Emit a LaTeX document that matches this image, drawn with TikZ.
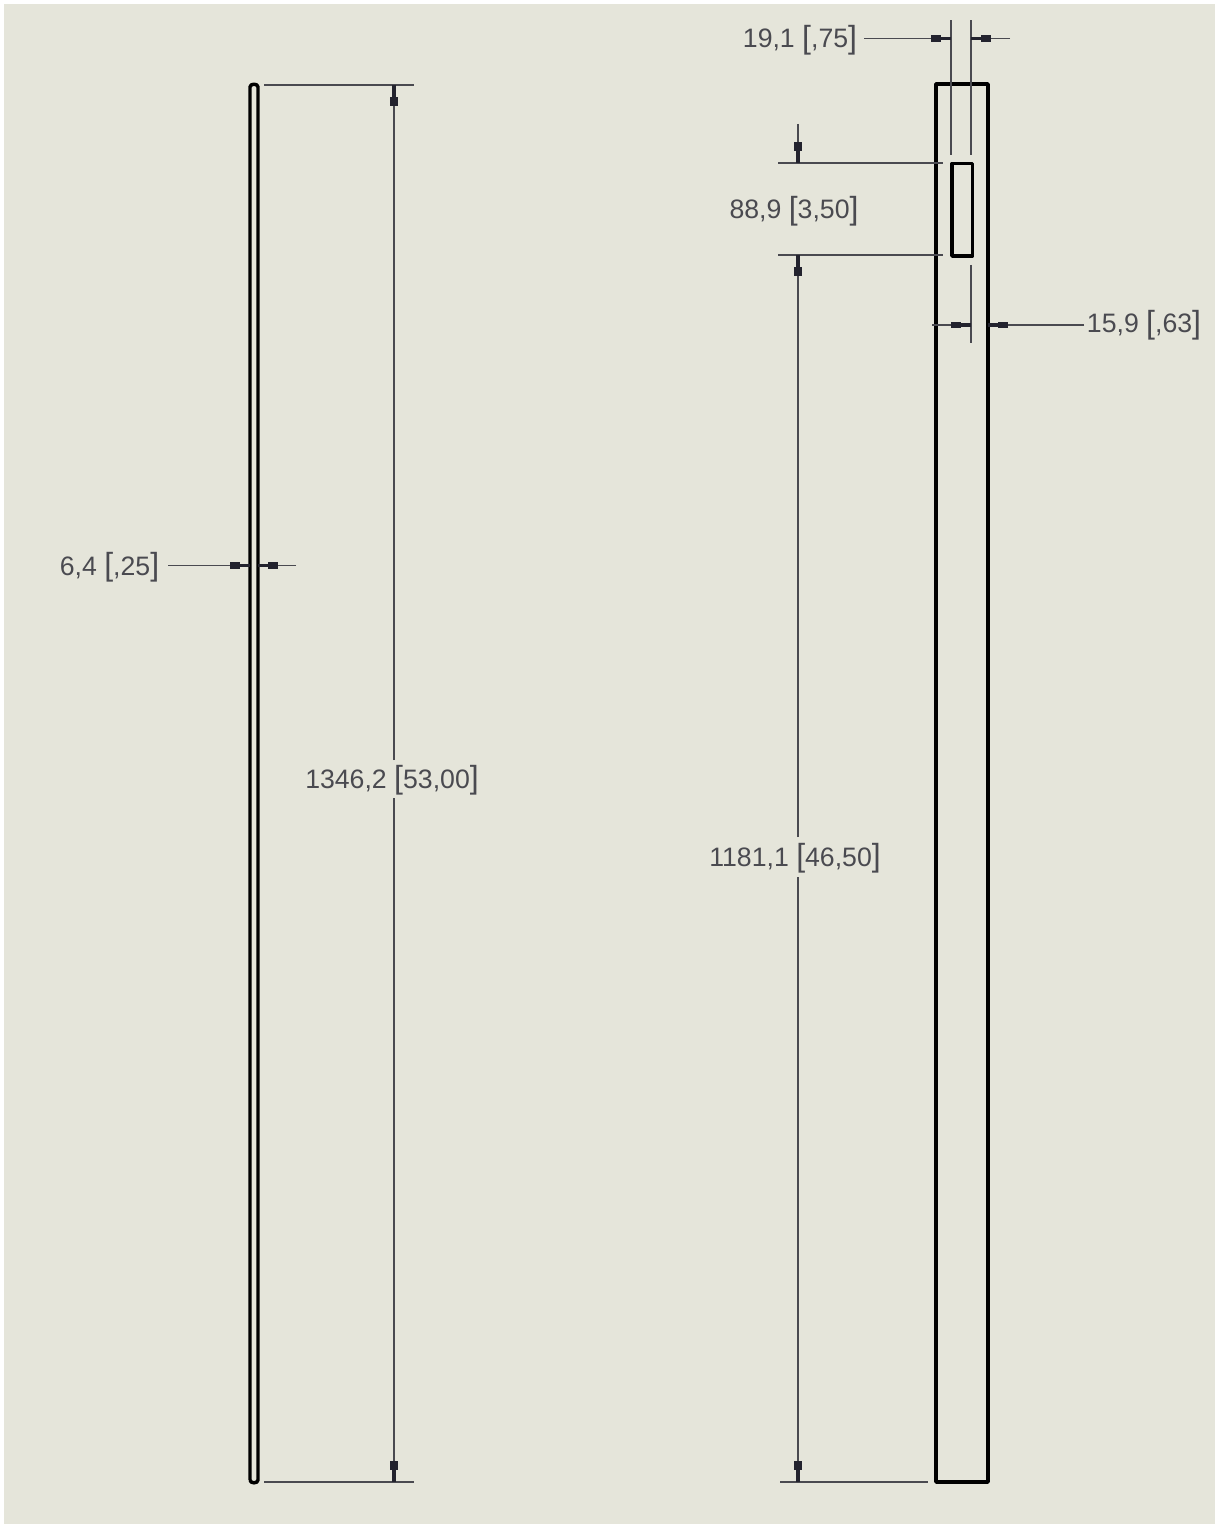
\documentclass[tikz,border=0pt]{standalone}
\usepackage{fontspec}
\setmainfont{Liberation Sans}
\usetikzlibrary{arrows.meta}
\definecolor{paper}{HTML}{E5E5DA}
\definecolor{dimink}{HTML}{23232E}
\newcommand{\brk}[1]{{\fontsize{24}{24}\selectfont\raisebox{-0.4pt}{[}}#1{\fontsize{24}{24}\selectfont\raisebox{-0.4pt}{]}}}
\tikzset{
  x=0.75pt,y=-0.75pt,
  outline/.style={draw=black,line width=2.6pt,line join=round},
  extline/.style={draw=dimink!80!paper,line width=1.2pt},
  dimv/.style={draw=dimink!80!paper,line width=1.2pt,
    -{Rectangle[length=6.8pt,width=6pt,color=dimink,fill=dimink]Rectangle[length=9pt,width=2.8pt,color=dimink,fill=dimink]}},
  dimh/.style={draw=dimink!80!paper,line width=1.2pt,
    -{Rectangle[length=7.5pt,width=5.2pt,color=dimink,fill=dimink]Rectangle[length=7.5pt,width=2.8pt,color=dimink,fill=dimink]}},
  dimlabel/.style={inner sep=0pt,text=dimink!80!paper,font=\fontsize{20}{24}\selectfont,anchor=base}
}
\begin{document}
\begin{tikzpicture}
\useasboundingbox (0,0) rectangle (1215,1526);
\fill[white] (0,0) rectangle (1215,1526);
\fill[paper] (4,4) rectangle (1215,1524);
% left view
\draw[outline] (250,1480) -- (250,87) to[out=90,in=90,looseness=1.2] (258,87) -- (258,1480) to[out=-90,in=-90,looseness=1.2] (250,1480);
\coordinate (ltop) at (264,85); \coordinate (ltopend) at (414,85);
\coordinate (lbot) at (264,1482); \coordinate (lbotend) at (414,1482);
\draw[extline] (ltop) -- (ltopend);
\draw[extline] (lbot) -- (lbotend);
\node[dimlabel] (lheight) at (392,788) {1346,2 \brk{53,00}};
\coordinate (ldimtop) at (394,85); \coordinate (ldimbot) at (394,1482);
\coordinate (lgapa) at (394,760); \coordinate (lgapb) at (394,798);
\draw[dimv] (lgapa) -- (ldimtop);
\draw[dimv] (lgapb) -- (ldimbot);
\node[dimlabel] (lthick) at (109.5,575) {6,4 \brk{,25}};
\coordinate (lthickl) at (250,565.5); \coordinate (lthickr) at (258,565.5);
\coordinate (lthickend) at (296,565.5); \coordinate (lthickstart) at (168,565.5);
\draw[dimh] (lthickstart) -- (lthickl);
\draw[dimh] (lthickend) -- (lthickr);
% right view
\draw[outline] (936,84) rectangle (988,1482);
\node[outline,draw,rectangle,inner sep=0pt,minimum width=15.4pt,minimum height=69.4pt] (slot) at (962.2,209.7) {};
\coordinate (sl) at (951,155); \coordinate (slt) at (951,20);
\coordinate (sr) at (971,155); \coordinate (srt) at (971,20);
\draw[extline] (sl) -- (slt);
\draw[extline] (sr) -- (srt);
\node[dimlabel] (w) at (800,48) {19,1 \brk{,75}};
\coordinate (wl) at (951,38.5); \coordinate (wr) at (971,38.5);
\coordinate (wend) at (1010,38.5); \coordinate (wstart) at (864,38.5);
\draw[dimh] (wstart) -- (wl);
\draw[dimh] (wend) -- (wr);
\coordinate (e1) at (778,163); \coordinate (e1b) at (943,163);
\coordinate (e2) at (778,255); \coordinate (e2b) at (943,255);
\coordinate (e3) at (780,1482); \coordinate (e3b) at (928,1482);
\draw[extline] (e1) -- (e1b);
\draw[extline] (e2) -- (e2b);
\draw[extline] (e3) -- (e3b);
\node[dimlabel] (h) at (794,219) {88,9 \brk{3,50}};
\coordinate (htop) at (798,124); \coordinate (h1) at (798,163); \coordinate (h2) at (798,255);
\draw[dimv] (htop) -- (h1);
\node[dimlabel] (long) at (795,866) {1181,1 \brk{46,50}};
\coordinate (h3) at (798,1482);
\coordinate (hgapa) at (798,837); \coordinate (hgapb) at (798,877);
\draw[dimv] (hgapa) -- (h2);
\draw[dimv] (hgapb) -- (h3);
\coordinate (x1) at (971,265); \coordinate (x2) at (971,343);
\draw[extline] (x1) -- (x2);
\node[dimlabel] (off) at (1144,333) {15,9 \brk{,63}};
\coordinate (ol) at (932,325); \coordinate (om) at (971,325); \coordinate (or) at (988,325);
\coordinate (oend) at (1084,325);
\draw[dimh] (ol) -- (om);
\draw[dimh] (oend) -- (or);
\end{tikzpicture}
\end{document}
